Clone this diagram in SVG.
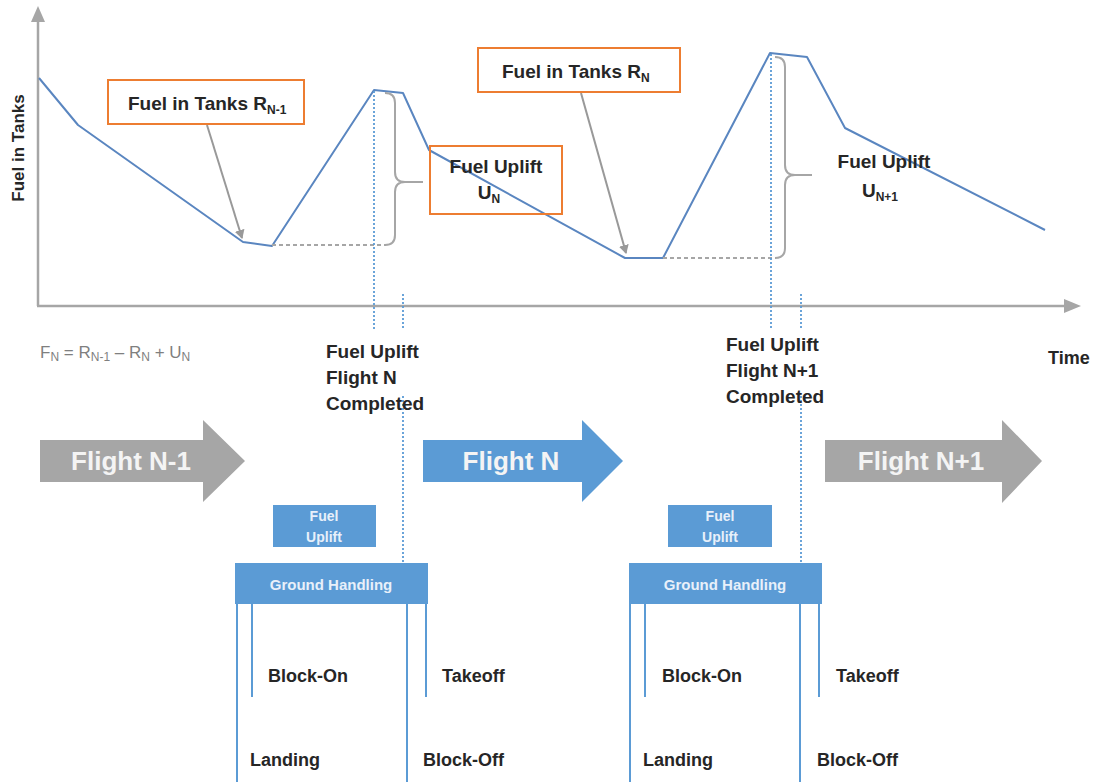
<svg xmlns="http://www.w3.org/2000/svg" width="1097" height="782" viewBox="0 0 1097 782">
<style>
text{font-family:"Liberation Sans",Arial,sans-serif;}
.b{font-weight:bold;fill:#262626;}
.lbl{font-size:19px;}
.ev{font-size:18px;}
.fl{font-size:26px;font-weight:bold;fill:#f4f4f4;}
.wt{font-weight:bold;fill:#e8f0fa;}
.axis{stroke:#a6a6a6;stroke-width:2.5;fill:none;}
.curve{stroke:#5a86c0;stroke-width:2;fill:none;stroke-linejoin:round;}
.dot{stroke:#5b9bd5;stroke-width:1.8;stroke-dasharray:2 2;fill:none;}
.dash{stroke:#a6a6a6;stroke-width:1.8;stroke-dasharray:4 3;fill:none;}
.brace{stroke:#a6a6a6;stroke-width:2;fill:none;}
.obox{fill:none;stroke:#ed7d31;stroke-width:2;}
.ptr{stroke:#999;stroke-width:2;fill:none;}
.blue{fill:#5b9bd5;}
.vl{stroke:#5b9bd5;stroke-width:2;}
.sub{font-size:12px;}
</style>
<defs>
<marker id="ah" markerWidth="10" markerHeight="10" refX="8" refY="5" orient="auto" markerUnits="userSpaceOnUse">
<path d="M0,0 L9,5 L0,10 z" fill="#999"/>
</marker>
</defs>
<rect width="1097" height="782" fill="#ffffff"/>

<g id="axes">
<line class="axis" x1="38" y1="306" x2="38" y2="14"/>
<path d="M31,22 L38,6 L45,22 z" fill="#a6a6a6"/>
<line class="axis" x1="37" y1="306" x2="1070" y2="306"/>
<path d="M1064,299 L1081,306 L1064,313 z" fill="#a6a6a6"/>
<text class="b" font-size="17" transform="translate(24,148) rotate(-90)" text-anchor="middle">Fuel in Tanks</text>
<text class="b" font-size="18" x="1048" y="364">Time</text>
</g>

<g id="curve">
<polyline class="curve" points="39,78 78,125 243,242 272,246 374,90 403,93 429,150 625,258 663,258 770,53 807,57 845,128 1045,230"/>
</g>

<g id="connectors">
<line class="dash" x1="272" y1="245" x2="386" y2="245"/>
<line class="dash" x1="663" y1="258" x2="776" y2="258"/>
<path class="brace" d="M385,93 Q395,93 395,103 L395,172 Q395,182 405,182 L423,182 M405,182 Q395,182 395,192 L395,235 Q395,245 385,245"/>
<path class="brace" d="M775,57 Q785,57 785,67 L785,165 Q785,175 795,175 L812,175 M795,175 Q785,175 785,185 L785,248 Q785,258 775,258"/>
<line class="dot" x1="374" y1="91" x2="374" y2="330"/>
<line class="dot" x1="403" y1="294" x2="403" y2="330"/>
<line class="dot" x1="403" y1="396" x2="403" y2="562"/>
<line class="dot" x1="771" y1="54" x2="771" y2="330"/>
<line class="dot" x1="801" y1="294" x2="801" y2="330"/>
<line class="dot" x1="801" y1="396" x2="801" y2="562"/>
<line class="ptr" x1="207" y1="125" x2="242" y2="238" marker-end="url(#ah)"/>
<line class="ptr" x1="581" y1="93" x2="626" y2="253" marker-end="url(#ah)"/>
</g>

<g id="box-rn1">
<rect class="obox" x="108" y="80" width="196" height="44"/>
<text class="b lbl" x="128" y="110">Fuel in Tanks R<tspan class="sub" dy="4">N-1</tspan></text>
</g>

<g id="box-rn">
<rect class="obox" x="478" y="48" width="202" height="44"/>
<text class="b lbl" x="502" y="78">Fuel in Tanks R<tspan class="sub" dy="4">N</tspan></text>
</g>

<g id="box-un">
<rect class="obox" x="430" y="146" width="132" height="68"/>
<text class="b lbl" x="496" y="173" text-anchor="middle">Fuel Uplift</text>
<text class="b lbl" x="489" y="199" text-anchor="middle">U<tspan class="sub" dy="4">N</tspan></text>
</g>

<g id="label-un1">
<text class="b lbl" x="884" y="168" text-anchor="middle">Fuel Uplift</text>
<text class="b lbl" x="880" y="197" text-anchor="middle">U<tspan class="sub" dy="4">N+1</tspan></text>
</g>

<g id="formula">
<text font-size="17" fill="#7f7f7f" x="40" y="358">F<tspan class="sub" dy="3">N</tspan><tspan dy="-3"> = R</tspan><tspan class="sub" dy="3">N-1</tspan><tspan dy="-3"> – R</tspan><tspan class="sub" dy="3">N</tspan><tspan dy="-3"> + U</tspan><tspan class="sub" dy="3">N</tspan></text>
</g>

<g id="completed-n">
<text class="b lbl" x="326" y="358">Fuel Uplift</text>
<text class="b lbl" x="326" y="384">Flight N</text>
<text class="b lbl" x="326" y="410">Completed</text>
</g>

<g id="completed-n1">
<text class="b lbl" x="726" y="351">Fuel Uplift</text>
<text class="b lbl" x="726" y="377">Flight N+1</text>
<text class="b lbl" x="726" y="403">Completed</text>
</g>

<g id="flight-n-1">
<path d="M40,440 L203,440 L203,420 L245,461 L203,502 L203,482 L40,482 z" fill="#a6a6a6"/>
<text class="fl" x="131" y="470" text-anchor="middle">Flight N-1</text>
</g>

<g id="flight-n">
<path d="M423,440 L582,440 L582,420 L623,461 L582,502 L582,482 L423,482 z" fill="#5b9bd5"/>
<text class="fl" x="511" y="470" text-anchor="middle">Flight N</text>
</g>

<g id="flight-n1">
<path d="M825,440 L1002,440 L1002,420 L1042,461 L1002,503 L1002,482 L825,482 z" fill="#a6a6a6"/>
<text class="fl" x="921" y="470" text-anchor="middle">Flight N+1</text>
</g>

<g id="ground-1">
<rect class="blue" x="273" y="505" width="103" height="42"/>
<text class="wt" font-size="14" x="324" y="521" text-anchor="middle">Fuel</text>
<text class="wt" font-size="14" x="324" y="542" text-anchor="middle">Uplift</text>
<rect class="blue" x="235" y="563" width="193" height="41"/>
<text class="wt" font-size="15" x="331" y="590" text-anchor="middle">Ground Handling</text>
<line class="vl" x1="237" y1="603" x2="237" y2="782"/>
<line class="vl" x1="252" y1="603" x2="252" y2="697"/>
<line class="vl" x1="407" y1="603" x2="407" y2="782"/>
<line class="vl" x1="426" y1="603" x2="426" y2="697"/>
<text class="b ev" x="268" y="682">Block-On</text>
<text class="b ev" x="442" y="682">Takeoff</text>
<text class="b ev" x="250" y="766">Landing</text>
<text class="b ev" x="423" y="766">Block-Off</text>
</g>

<g id="ground-2">
<rect class="blue" x="668" y="505" width="104" height="42"/>
<text class="wt" font-size="14" x="720" y="521" text-anchor="middle">Fuel</text>
<text class="wt" font-size="14" x="720" y="542" text-anchor="middle">Uplift</text>
<rect class="blue" x="629" y="563" width="193" height="41"/>
<text class="wt" font-size="15" x="725" y="590" text-anchor="middle">Ground Handling</text>
<line class="vl" x1="630" y1="603" x2="630" y2="782"/>
<line class="vl" x1="645" y1="603" x2="645" y2="697"/>
<line class="vl" x1="800" y1="603" x2="800" y2="782"/>
<line class="vl" x1="819" y1="603" x2="819" y2="697"/>
<text class="b ev" x="662" y="682">Block-On</text>
<text class="b ev" x="836" y="682">Takeoff</text>
<text class="b ev" x="643" y="766">Landing</text>
<text class="b ev" x="817" y="766">Block-Off</text>
</g>
</svg>
